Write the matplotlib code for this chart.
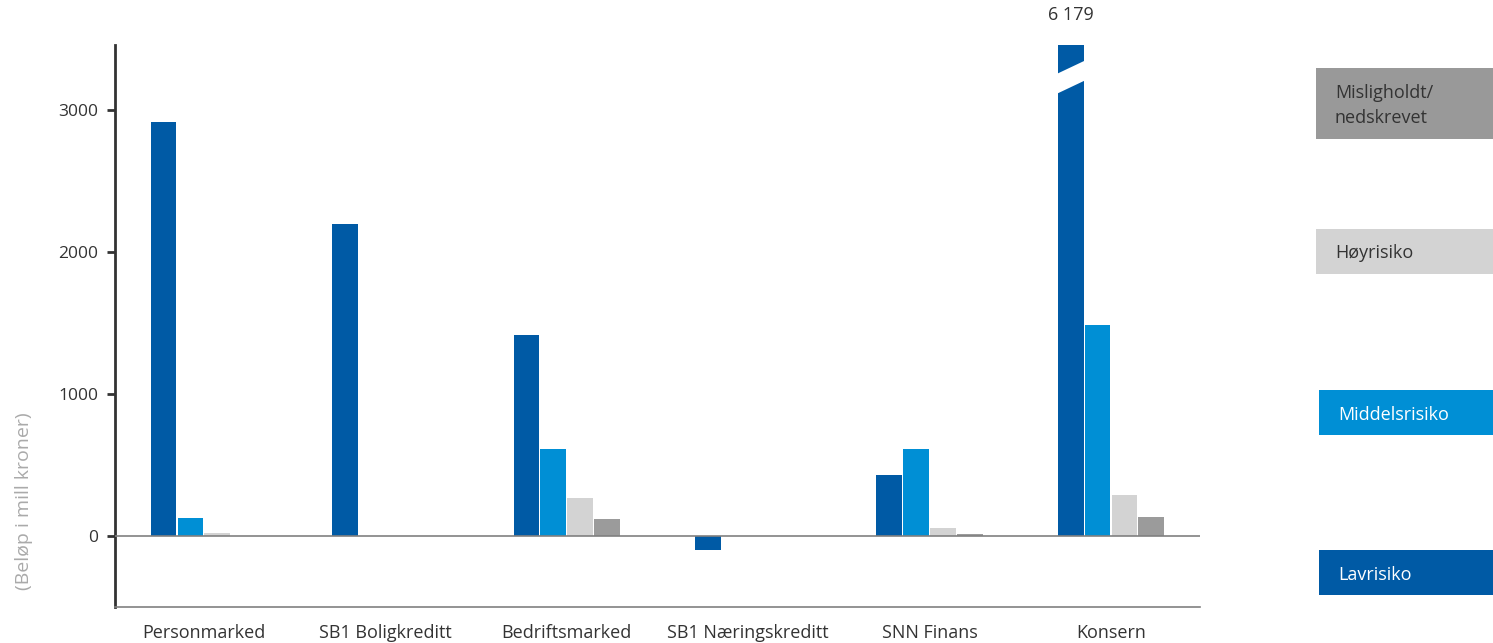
import matplotlib
matplotlib.use("Agg")
import matplotlib.pyplot as plt
from matplotlib.patches import Polygon, Rectangle
import numpy as np

plt.rcParams['font.family'] = ['Open Sans', 'DejaVu Sans']

categories = ["Personmarked", "SB1 Boligkreditt", "Bedriftsmarked",
              "SB1 Næringskreditt", "SNN Finans", "Konsern"]
series_names = ["Lavrisiko", "Middelsrisiko", "Høyrisiko", "Misligholdt/\nnedskrevet"]
lavrisiko = [2915, 2197, 1415, -99, 430, 6179]
middelsrisiko = [127, 0, 613, 0, 613, 1486]
hoyrisiko = [21, 0, 268, 0, 56, 289]
misligholdt = [3, 0, 120, 0, 14, 134]
yticks = [0, 1000, 2000, 3000]
break_label = "6 179"

colors = ["#005AA5", "#008FD5", "#D3D3D3", "#9B9B9B"]
legend_colors = ["#005AA5", "#008FD5", "#D3D3D3", "#999999"]
legend_text_colors = ["white", "white", "#333333", "#333333"]

fig = plt.figure(figsize=(14.93, 6.43), dpi=100)
ax = fig.add_axes([0.077, 0.056, 0.7267, 0.874])

ymin, ymax = -500, 3458
x = np.arange(len(categories))
w = 0.148
series = [lavrisiko, middelsrisiko, hoyrisiko, misligholdt]
for i, (vals, c) in enumerate(zip(series, colors)):
    ax.bar(x + (i - 1.5) * w, vals, width=w * 0.96, color=c, zorder=2)

ax.set_xlim(-0.49, 5.49)
ax.set_ylim(ymin, ymax)
ax.axhline(0, color="#808080", lw=1.2, zorder=3)

# break mark on the Konsern Lavrisiko bar
bx = x[5] - 1.5 * w
half = w * 0.96 / 2 + 0.01
y_up_l, y_up_r = 3252, 3350
thick = 140
poly = Polygon([(bx - half, y_up_l), (bx + half, y_up_r),
                (bx + half, y_up_r - thick), (bx - half, y_up_l - thick)],
               closed=True, facecolor="white", edgecolor="none", zorder=4)
ax.add_patch(poly)
ax.text(bx, 1.053, break_label, transform=ax.get_xaxis_transform(),
        ha="center", va="center", fontsize=13, color="#333333")

ax.set_yticks(yticks)
ax.set_yticklabels([str(t) for t in yticks], fontsize=12.5, color="#333333")
ax.set_xticks(x)
ax.set_xticklabels(categories, fontsize=13, color="#333333")
ax.tick_params(axis="x", length=0, pad=12)
ax.tick_params(axis="y", length=6, width=2, color="#333333", pad=6)

for s in ["top", "right"]:
    ax.spines[s].set_visible(False)
ax.spines["left"].set_color("#333333")
ax.spines["left"].set_linewidth(2)
ax.spines["bottom"].set_color("#808080")
ax.spines["bottom"].set_linewidth(1.2)

fig.text(0.016, 0.22, "(Beløp i mill kroner)", rotation=90, ha="center",
         va="center", fontsize=14, color="#AAAAAA")

# legend boxes on the right
W, H = 1493, 643
boxes = [  # (left, top, bottom) in pixels
    (1319, 550, 595),
    (1319, 390, 435),
    (1316, 229, 274),
    (1316, 68, 139),
]
for name, fc, tc, (l, t, b) in zip(series_names, legend_colors, legend_text_colors, boxes):
    fig.patches.append(Rectangle((l / W, 1 - b / H), (W - l) / W, (b - t) / H,
                                 transform=fig.transFigure, facecolor=fc,
                                 edgecolor="none"))
    fig.text((l + 19) / W, 1 - ((t + b) / 2 + 2) / H, name, ha="left", va="center",
             fontsize=13, color=tc, linespacing=1.45)

fig.savefig("out.png", dpi=100)
